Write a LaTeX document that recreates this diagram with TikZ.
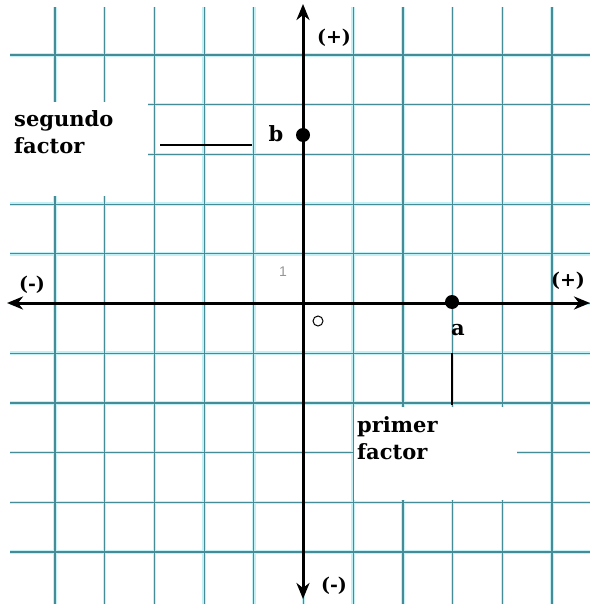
\documentclass[tikz,border=0pt]{standalone}
\usepackage{fontspec}
\setmainfont{DejaVu Serif}
\newfontfamily\lblsans{Liberation Sans}
\usetikzlibrary{arrows.meta}
\definecolor{gridteal}{RGB}{70,140,150}
\definecolor{gridhalo}{RGB}{195,240,245}
\definecolor{onegrey}{RGB}{150,150,150}
\begin{document}
\begin{tikzpicture}[x=1pt,y=-1pt,
  gridline/.style={gridteal, line width=1.2pt},
  halo/.style={gridhalo, line width=3.5pt},
  axisline/.style={black, line width=3pt},
  tip/.tip={Stealth[length=16pt,width=13pt,inset=5pt]},
  dot/.style={circle, fill=black, inner sep=0pt, minimum size=14pt},
  lbl/.style={font=\bfseries\fontsize{21}{27}\selectfont, inner sep=0pt},
  sign/.style={font=\bfseries\fontsize{19}{20}\selectfont, inner sep=0pt},
  lead/.style={black, line width=1.6pt}]
\useasboundingbox (0,0) rectangle (590,604);
\fill[white] (0,0) rectangle (590,604);
% grid
\begin{scope}
\clip (10,7) rectangle (590,604);
\foreach \k in {0,...,10} {
  \draw[halo] (55+49.7*\k, 7) -- (55+49.7*\k, 604);
  \draw[halo] (10, 55+49.7*\k) -- (590, 55+49.7*\k);
}
\foreach \k in {0,...,10} {
  \draw[gridline] (55+49.7*\k, 7) -- (55+49.7*\k, 604);
  \draw[gridline] (10, 55+49.7*\k) -- (590, 55+49.7*\k);
}
\end{scope}
% white label boxes
\fill[white] (10,102) rectangle (148,196);
\fill[white] (354,407) rectangle (517,500);
% axes
\coordinate (xl) at (7,303);
\coordinate (xr) at (590,303);
\coordinate (yt) at (303,4);
\coordinate (yb) at (303,599);
\draw[axisline, tip-tip] (xl) -- (xr);
\draw[axisline, tip-tip] (yb) -- (yt);
% points
\node[dot] (b) at (303,135) {};
\node[dot] (a) at (452,302) {};
\node[lbl] (blbl) at (276,134) {b};
\node[lbl] (albl) at (458,330) {a};
% factor labels
\node[lbl, anchor=north west, align=left] (seg) at (14,110) {segundo\\factor};
\node[lbl, anchor=north west, align=left] (prim) at (357,416) {primer\\factor};
\coordinate (s1) at (160,145);
\coordinate (s2) at (252,145);
\draw[lead] (s1) -- (s2);
\coordinate (p1) at (452,353);
\coordinate (p2) at (452,405);
\draw[lead, line width=2pt] (p1) -- (p2);
% signs
\node[sign] (yplus) at (334,38) {(+)};
\node[sign] (yminus) at (334,586) {(-)};
\node[sign] (xminus) at (32,285) {(-)};
\node[sign] (xplus) at (568,281) {(+)};
% unit and origin
\node[font=\lblsans\fontsize{14}{14}\selectfont, text=onegrey, inner sep=0pt] (one) at (283,272) {1};
\node[circle, draw=black, line width=1pt, inner sep=0pt, minimum size=10pt] (o) at (318,321) {};
\end{tikzpicture}
\end{document}
